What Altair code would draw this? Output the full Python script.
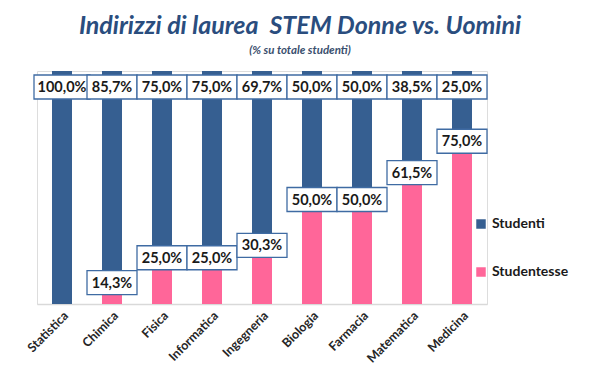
import altair as alt
import pandas as pd

categories = ["Statistica", "Chimica", "Fisica", "Informatica", "Ingegneria",
              "Biologia", "Farmacia", "Matematica", "Medicina"]
studentesse = [0.0, 14.3, 25.0, 25.0, 30.3, 50.0, 50.0, 61.5, 75.0]
studenti = [100.0, 85.7, 75.0, 75.0, 69.7, 50.0, 50.0, 38.5, 25.0]
series = ["Studenti", "Studentesse"]
colors = ["#365F91", "#FF6699"]

def fmt(v):
    return f"{v:.1f}".replace(".", ",") + "%"

def box_shape(label):
    # custom symbol path is scaled by sqrt(size)/2 -> 1 unit = 25px
    w = 1.0 + 0.12 * max(0, len(label) - 5)
    return f"M-{w},-0.48H{w}V0.48H-{w}Z"

rows = []
for c, f, m in zip(categories, studentesse, studenti):
    rows.append({"cat": c, "serie": "Studentesse", "val": f, "ord": 0})
    rows.append({"cat": c, "serie": "Studenti", "val": m, "ord": 1})
df = pd.DataFrame(rows)

top_lab = pd.DataFrame({"cat": categories,
                        "pos": [f + m for f, m in zip(studentesse, studenti)],
                        "lab": [fmt(m) for m in studenti]})
pink_lab = pd.DataFrame({"cat": [c for c, f in zip(categories, studentesse) if f > 0],
                         "pos": [f for f in studentesse if f > 0],
                         "lab": [fmt(f) for f in studentesse if f > 0]})
top_lab["shp"] = top_lab["lab"].map(box_shape)
pink_lab["shp"] = pink_lab["lab"].map(box_shape)

FONT = "Lato"
xenc = alt.X("cat:N", sort=categories, title=None,
             scale=alt.Scale(paddingInner=0.6, paddingOuter=0.3),
             axis=alt.Axis(labelAngle=-45, labelFont=FONT, labelFontWeight="bold",
                           labelFontSize=12.5, labelColor="#262626", ticks=False,
                           domainColor="#d9d9d9", domainWidth=1.5, labelPadding=5))
yscale = alt.Scale(domain=[0, 100], nice=False)

bars = alt.Chart(df).mark_bar().encode(
    x=xenc,
    y=alt.Y("val:Q", stack="zero", scale=yscale, axis=None),
    color=alt.Color("serie:N", scale=alt.Scale(domain=series, range=colors),
                    legend=alt.Legend(title=None, orient="none", legendX=437, legendY=146,
                                      symbolType="square", symbolSize=90,
                                      symbolStrokeWidth=0,
                                      labelFont=FONT, labelFontSize=14,
                                      labelFontWeight="bold", labelColor="#1a1a1a",
                                      rowPadding=34)),
    order=alt.Order("ord:Q"),
)

def labels(data, yoff):
    box = alt.Chart(data).mark_point(size=2500, filled=True,
                                     fill="white", stroke="#3F6BA3", strokeWidth=1.3,
                                     opacity=1, yOffset=yoff).encode(
        x=alt.X("cat:N", sort=categories),
        y=alt.Y("pos:Q", scale=yscale),
        shape=alt.Shape("shp:N", scale=None, legend=None),
    )
    txt = alt.Chart(data).mark_text(font=FONT, fontSize=14.5, fontWeight="bold",
                                    color="#1a1a1a", baseline="middle",
                                    yOffset=yoff + 1).encode(
        x=alt.X("cat:N", sort=categories),
        y=alt.Y("pos:Q", scale=yscale),
        text="lab:N",
    )
    return box + txt

chart = alt.layer(bars, labels(top_lab, 16), labels(pink_lab, 12)).properties(
    width=450, height=233,
    padding={"left": 29, "top": 63, "right": 98, "bottom": 71},
    autosize=alt.AutoSizeParams(type="none"),
    title=alt.TitleParams(
        text="Indirizzi di laurea\u00a0 STEM Donne vs. Uomini",
        subtitle="(% su totale studenti)",
        font=FONT, fontSize=25, fontStyle="italic", fontWeight="bold", color="#2A4D7E",
        subtitleFont=FONT, subtitleFontSize=11.5, subtitleFontStyle="italic",
        subtitleFontWeight="bold", subtitleColor="#3A4F6E",
        anchor="middle", dx=38, offset=15, subtitlePadding=6,
    ),
).configure_view(stroke=None).configure(background="white")

chart.save("out.html", embed_options={"renderer": "svg", "actions": False})
